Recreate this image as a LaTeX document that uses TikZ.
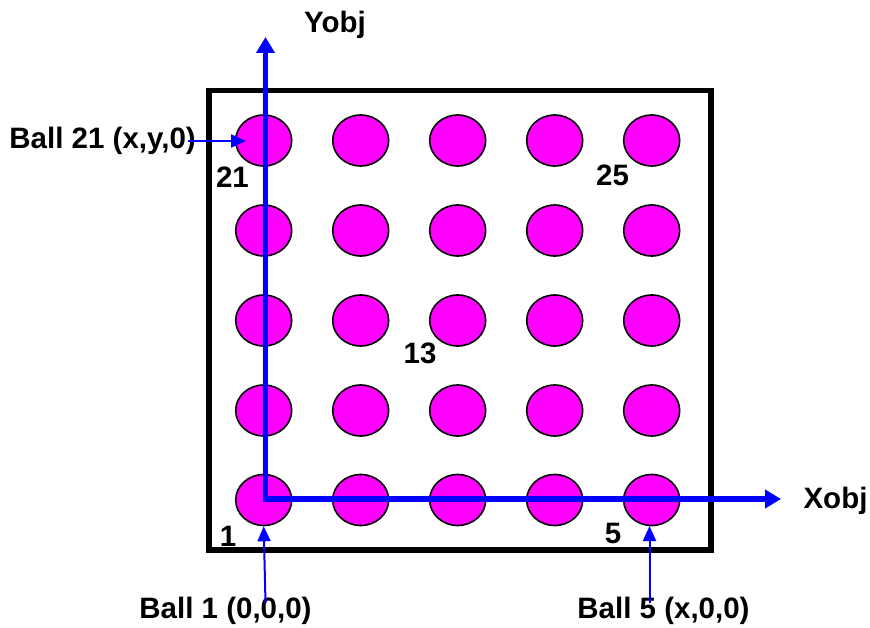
\documentclass[tikz,border=0pt]{standalone}
\usepackage{fontspec}
\setmainfont{Liberation Sans}
\usetikzlibrary{arrows.meta,shapes.geometric}
\definecolor{ballmag}{RGB}{255,0,255}
\definecolor{axblue}{RGB}{0,0,255}
\begin{document}
\begin{tikzpicture}[x=1pt,y=-1pt,
  ball/.style={ellipse,draw=black,line width=1.6pt,fill=ballmag,minimum width=56pt,minimum height=51pt,inner sep=0pt},
  lbl/.style={font=\fontsize{29.5}{32}\selectfont\bfseries,inner sep=0pt},
  axis/.style={draw=axblue,line width=5.5pt,-{Triangle[length=16pt,width=18pt]}},
  pointer/.style={draw=axblue,line width=2pt,-{Triangle[length=15pt,width=13pt]}}]
\useasboundingbox (0,0) rectangle (870,628);
\draw[line width=5.5pt] (209,90.5) rectangle (711,550);
\foreach \r/\yy in {0/500,1/410.5,2/320.5,3/230.5,4/140.5}{
  \foreach \c in {1,...,5}{
    \pgfmathtruncatemacro{\n}{\r*5+\c}
    \node[ball] (b\n) at ({263.7+97*(\c-1)},\yy) {};
  }
}
\coordinate (o) at (265.5,499);
\coordinate (xt) at (781,499);
\coordinate (yt) at (265.5,37);
\draw[axis] (o) -- (xt);
\draw[axis] ([yshift=-2.75pt]o) -- (yt);
\node[lbl] (xl) at (835.5,501) {Xobj};
\node[lbl] (yl) at (335,25) {Yobj};
\node[lbl,anchor=east] (l21) at (196,141) {Ball 21 (x,y,0)};
\node[lbl] (l1) at (225.5,611) {Ball 1 (0,0,0)};
\node[lbl] (l5) at (663.5,611) {Ball 5 (x,0,0)};
\coordinate (p21) at (188,141);
\coordinate (p1) at (265.5,603);
\coordinate (p5) at (649.5,603);
\draw[pointer] (p21) -- (246,141);
\draw[pointer] (p1) -- (b1.south);
\draw[pointer] (p5) -- (649.5,526);
\node[lbl] (n21) at (232.5,177.5) {21};
\node[lbl] (n25) at (612.5,175.5) {25};
\node[lbl] (n13) at (420,353) {13};
\node[lbl] (n1) at (228,536) {1};
\node[lbl] (n5) at (613,533) {5};
\end{tikzpicture}
\end{document}
